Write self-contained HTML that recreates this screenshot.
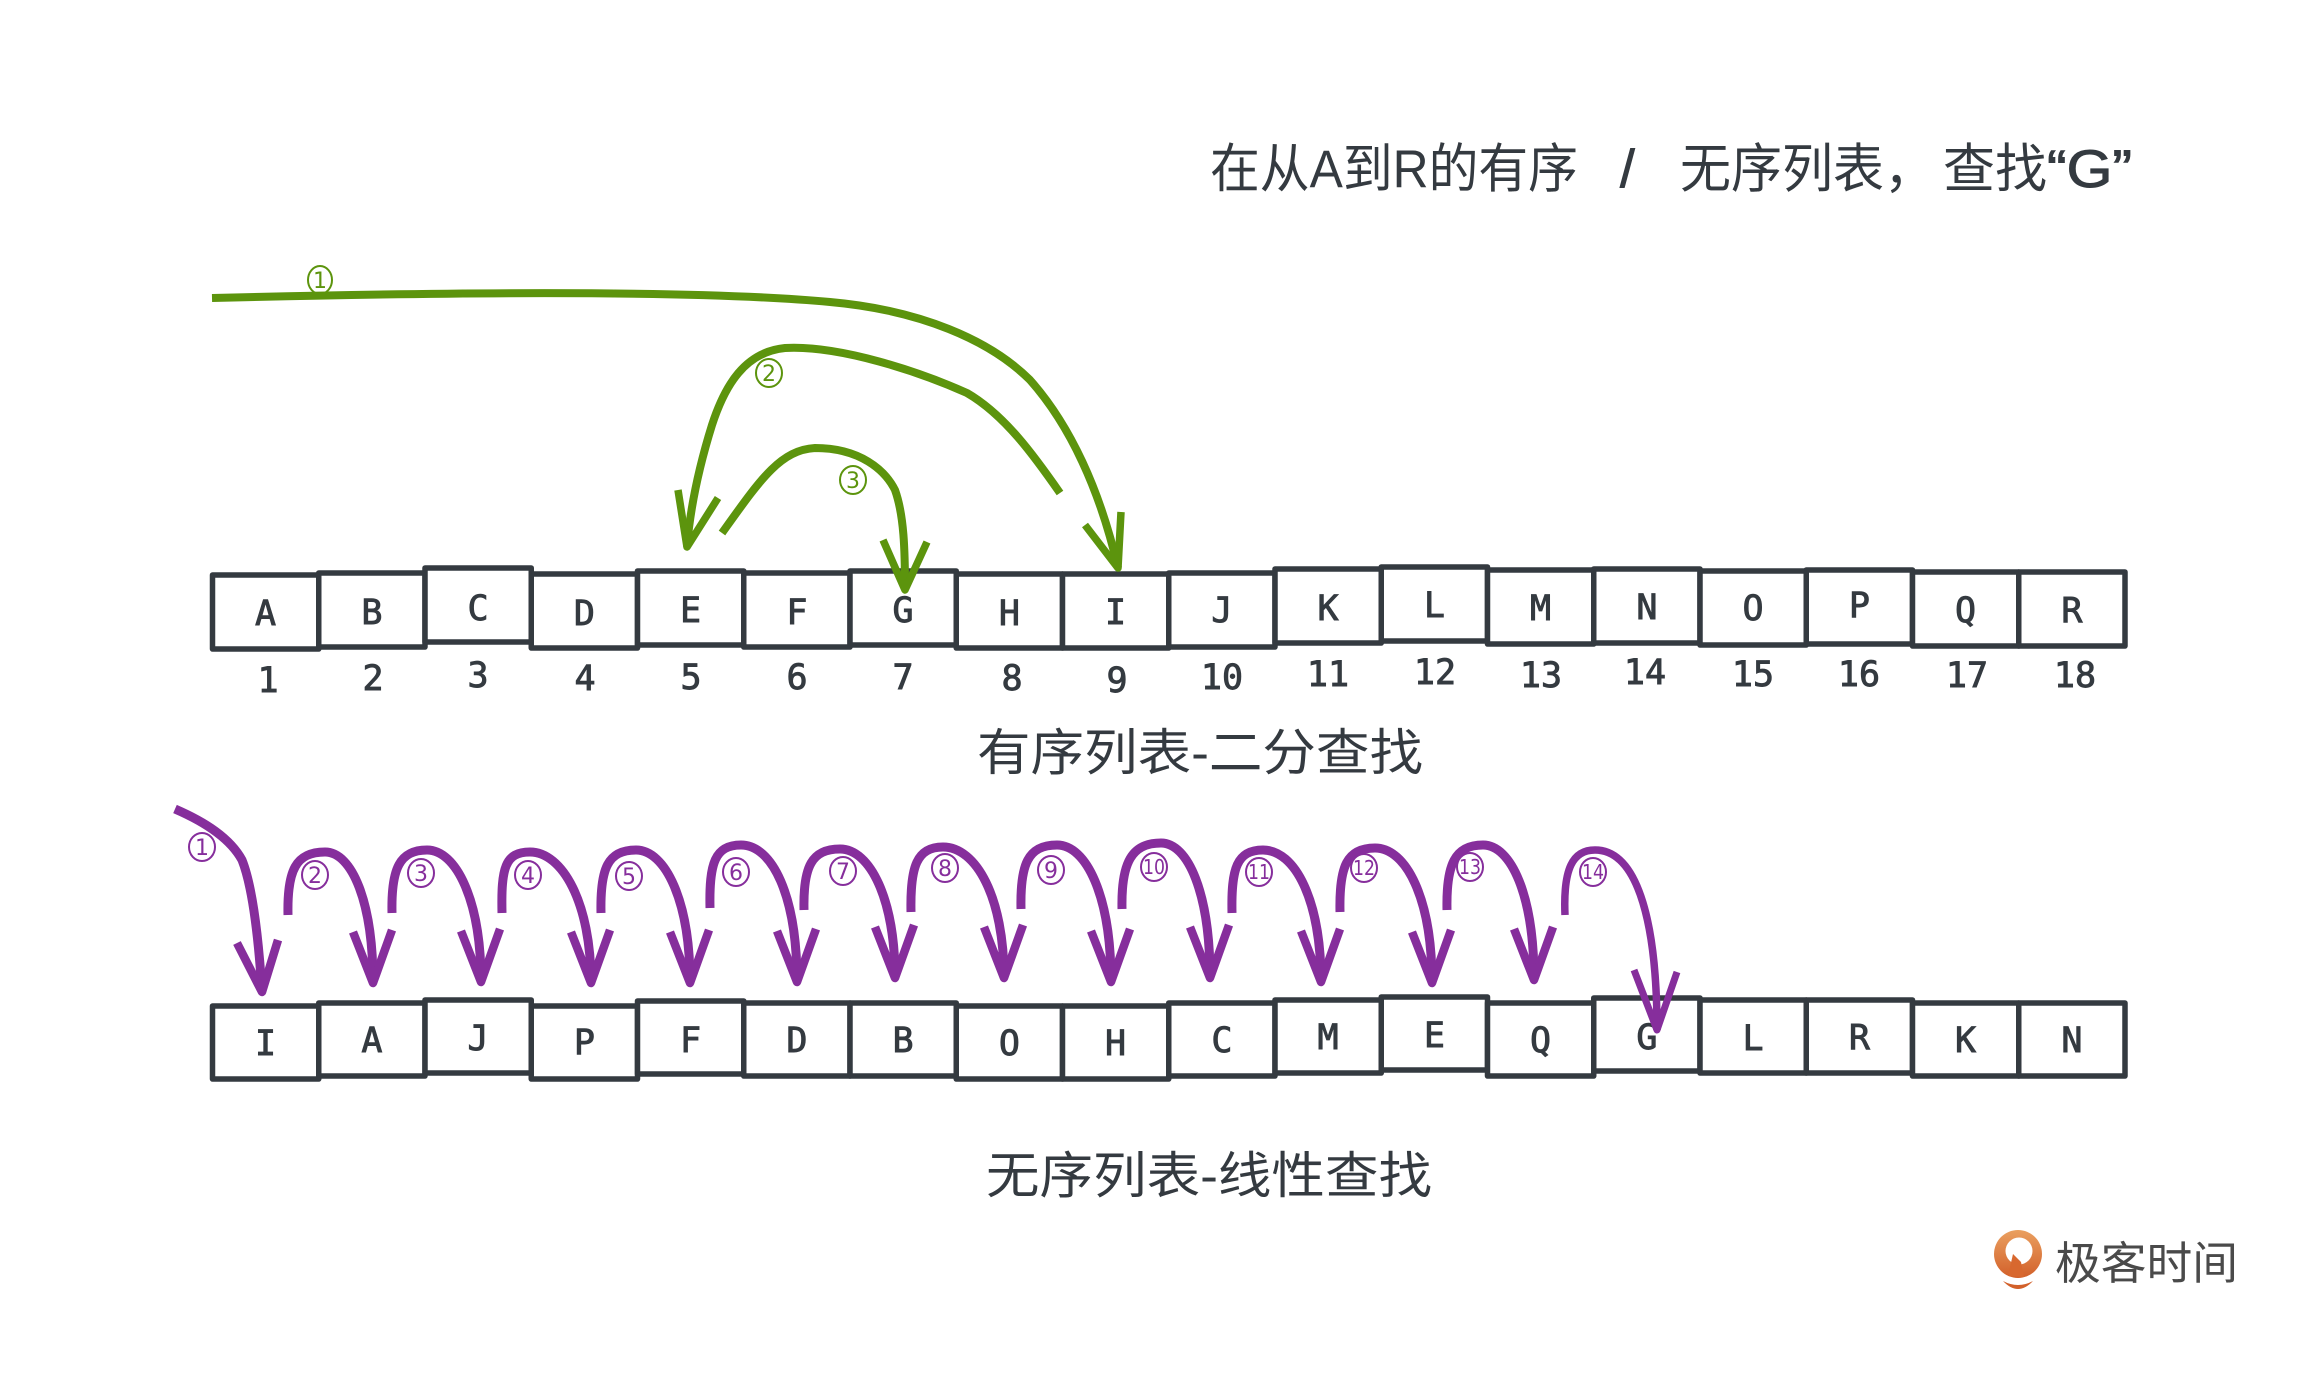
<!DOCTYPE html>
<html>
<head>
<meta charset="utf-8">
<style>
  html, body { margin:0; padding:0; background:#ffffff; }
  body { width:2312px; height:1379px; overflow:hidden; }
  svg { display:block; }
  .cjk { font-family: "Liberation Sans", "Noto Sans CJK SC", sans-serif; fill:#343a40; }
  .mono { font-family: "DejaVu Sans Mono", "Liberation Mono", monospace; fill:#343a40; stroke:#343a40; stroke-width:0.9; }
  .box { fill:#ffffff; stroke:#343a40; stroke-width:5.5; stroke-linejoin:round; }
  .g { fill:none; stroke:#5c940d; stroke-linecap:butt; stroke-linejoin:round; }
  .p { fill:none; stroke:#862e9c; stroke-linecap:butt; stroke-linejoin:round; }
  .gl { fill:none; stroke:#5c940d; stroke-width:2; }
  .pl { fill:none; stroke:#862e9c; stroke-width:2; }
  .gt { font-family:"DejaVu Sans", "Liberation Sans", sans-serif; fill:#5c940d; }
  .pt { font-family:"DejaVu Sans", "Liberation Sans", sans-serif; fill:#862e9c; }
</style>
</head>
<body>
<svg width="2312" height="1379" viewBox="0 0 2312 1379" xmlns="http://www.w3.org/2000/svg">
  <rect x="0" y="0" width="2312" height="1379" fill="#ffffff"/>

  <!-- Title -->
  <text class="cjk" x="1210" y="187" font-size="53" textLength="368" lengthAdjust="spacingAndGlyphs">在从A到R的有序</text>
  <text class="cjk" x="1620" y="187" font-size="53" stroke="#343a40" stroke-width="1">/</text>
  <text class="cjk" x="1680" y="187" font-size="53" textLength="255" lengthAdjust="spacingAndGlyphs">无序列表，</text>
  <text class="cjk" x="1943" y="187" font-size="53" textLength="104" lengthAdjust="spacingAndGlyphs">查找</text>
  <text class="cjk" x="2047" y="187" font-size="53" stroke="#343a40" stroke-width="1" textLength="85" lengthAdjust="spacingAndGlyphs">“G”</text>

  <!-- Row 1 boxes -->
  <g>
    <rect class="box" x="212.5" y="575" width="106.25" height="74"/>
    <rect class="box" x="318.75" y="573" width="106.25" height="74"/>
    <rect class="box" x="425" y="568" width="106.25" height="74"/>
    <rect class="box" x="531.25" y="574" width="106.25" height="74"/>
    <rect class="box" x="637.5" y="571" width="106.25" height="74"/>
    <rect class="box" x="743.75" y="573" width="106.25" height="74"/>
    <rect class="box" x="850" y="571" width="106.25" height="74"/>
    <rect class="box" x="956.25" y="574" width="106.25" height="74"/>
    <rect class="box" x="1062.5" y="574" width="106.25" height="74"/>
    <rect class="box" x="1168.75" y="573" width="106.25" height="74"/>
    <rect class="box" x="1275" y="569" width="106.25" height="74"/>
    <rect class="box" x="1381.25" y="567" width="106.25" height="74"/>
    <rect class="box" x="1487.5" y="570" width="106.25" height="74"/>
    <rect class="box" x="1593.75" y="569" width="106.25" height="74"/>
    <rect class="box" x="1700" y="571" width="106.25" height="74"/>
    <rect class="box" x="1806.25" y="570" width="106.25" height="74"/>
    <rect class="box" x="1912.5" y="572" width="106.25" height="74"/>
    <rect class="box" x="2018.75" y="572" width="106.25" height="74"/>
  </g>
  <g class="mono" font-size="35" text-anchor="middle">
    <text x="265.6" y="625">A</text>
    <text x="371.9" y="624">B</text>
    <text x="478.1" y="620">C</text>
    <text x="584.4" y="625">D</text>
    <text x="690.6" y="622">E</text>
    <text x="796.9" y="624">F</text>
    <text x="903.1" y="622">G</text>
    <text x="1009.4" y="625">H</text>
    <text x="1115.6" y="624">I</text>
    <text x="1221.9" y="622">J</text>
    <text x="1328.1" y="620">K</text>
    <text x="1434.4" y="617">L</text>
    <text x="1540.6" y="620">M</text>
    <text x="1646.9" y="619">N</text>
    <text x="1753.1" y="620">O</text>
    <text x="1859.4" y="617">P</text>
    <text x="1965.6" y="622">Q</text>
    <text x="2071.9" y="622">R</text>
  </g>
  <!-- Numbers -->
  <g class="mono" font-size="35" text-anchor="middle">
    <text x="268" y="692">1</text>
    <text x="373" y="690">2</text>
    <text x="478" y="687">3</text>
    <text x="585" y="690">4</text>
    <text x="691" y="689">5</text>
    <text x="797" y="689">6</text>
    <text x="903" y="689">7</text>
    <text x="1012" y="690">8</text>
    <text x="1117" y="692">9</text>
    <text x="1222" y="689">10</text>
    <text x="1328" y="686">11</text>
    <text x="1435" y="684">12</text>
    <text x="1541" y="687">13</text>
    <text x="1645" y="684">14</text>
    <text x="1753" y="686">15</text>
    <text x="1859" y="686">16</text>
    <text x="1967" y="687">17</text>
    <text x="2075" y="687">18</text>
  </g>

  <!-- Caption 1 -->
  <text class="cjk" x="977" y="770" font-size="50" textLength="446" lengthAdjust="spacingAndGlyphs">有序列表-二分查找</text>

  <!-- Green arrows -->
  <path class="g" stroke-width="8" d="M 212 298 C 450 292, 700 290, 830 302 C 920 310, 990 340, 1030 380 C 1070 425, 1100 490, 1118 568"/>
  <path class="g" stroke-width="7.5" d="M 1085 525 L 1118 568 L 1121 512"/>
  <path class="g" stroke-width="8" d="M 1060 493 C 1035 457, 1005 415, 967 393 C 920 372, 840 345, 785 348 C 745 352, 725 385, 712 425 C 698 470, 690 510, 687 547"/>
  <path class="g" stroke-width="7.5" d="M 678 490 L 687 547 L 718 498"/>
  <path class="g" stroke-width="8" d="M 722 533 C 760 480, 780 450, 815 448 C 860 448, 885 470, 895 490 C 904 515, 905 550, 905 590"/>
  <path class="g" stroke-width="7.5" d="M 883 540 L 905 590 L 927 542"/>

  <!-- Green labels -->
  <ellipse class="gl" cx="320" cy="280" rx="12" ry="14"/>
  <text class="gt" x="320" y="288" font-size="22" text-anchor="middle">1</text>
  <ellipse class="gl" cx="769" cy="373" rx="13" ry="14"/>
  <text class="gt" x="769" y="381" font-size="22" text-anchor="middle">2</text>
  <ellipse class="gl" cx="853" cy="480" rx="13" ry="14"/>
  <text class="gt" x="853" y="488" font-size="22" text-anchor="middle">3</text>

  <!-- Row 2 boxes -->
  <g>
    <rect class="box" x="212.5" y="1006" width="106.25" height="73"/>
    <rect class="box" x="318.75" y="1003" width="106.25" height="73"/>
    <rect class="box" x="425" y="1000" width="106.25" height="73"/>
    <rect class="box" x="531.25" y="1006" width="106.25" height="73"/>
    <rect class="box" x="637.5" y="1001" width="106.25" height="73"/>
    <rect class="box" x="743.75" y="1003" width="106.25" height="73"/>
    <rect class="box" x="850" y="1003" width="106.25" height="73"/>
    <rect class="box" x="956.25" y="1006" width="106.25" height="73"/>
    <rect class="box" x="1062.5" y="1006" width="106.25" height="73"/>
    <rect class="box" x="1168.75" y="1003" width="106.25" height="73"/>
    <rect class="box" x="1275" y="1000" width="106.25" height="73"/>
    <rect class="box" x="1381.25" y="997" width="106.25" height="73"/>
    <rect class="box" x="1487.5" y="1003" width="106.25" height="73"/>
    <rect class="box" x="1593.75" y="998" width="106.25" height="73"/>
    <rect class="box" x="1700" y="1000" width="106.25" height="73"/>
    <rect class="box" x="1806.25" y="1000" width="106.25" height="73"/>
    <rect class="box" x="1912.5" y="1003" width="106.25" height="73"/>
    <rect class="box" x="2018.75" y="1003" width="106.25" height="73"/>
  </g>
  <g class="mono" font-size="35" text-anchor="middle">
    <text x="265.6" y="1055">I</text>
    <text x="371.9" y="1052">A</text>
    <text x="478.1" y="1050">J</text>
    <text x="584.4" y="1054">P</text>
    <text x="690.6" y="1052">F</text>
    <text x="796.9" y="1052">D</text>
    <text x="903.1" y="1052">B</text>
    <text x="1009.4" y="1055">O</text>
    <text x="1115.6" y="1055">H</text>
    <text x="1221.9" y="1052">C</text>
    <text x="1328.1" y="1049">M</text>
    <text x="1434.4" y="1047">E</text>
    <text x="1540.6" y="1052">Q</text>
    <text x="1646.9" y="1049">G</text>
    <text x="1753.1" y="1050">L</text>
    <text x="1859.4" y="1049">R</text>
    <text x="1965.6" y="1052">K</text>
    <text x="2071.9" y="1052">N</text>
  </g>

  <!-- Purple arrows -->
  <g>
    <path class="p" stroke-width="9" d="M 175 809 C 205 822, 230 838, 242 860 C 252 885, 258 930, 262 992"/>
    <path class="p" stroke-width="8.5" d="M 237 943 L 262 992 L 278 940"/>
    <path class="p" stroke-width="9" d="M 288 915 C 287 870, 296 852, 325 852 C 352 852, 373 902, 373 983"/>
    <path class="p" stroke-width="8.5" d="M 353 932 L 373 983 L 392 930"/>
    <path class="p" stroke-width="9" d="M 392 913 C 391 868, 400 850, 427 850 C 456 850, 481 900, 481 982"/>
    <path class="p" stroke-width="8.5" d="M 461 931 L 481 982 L 500 929"/>
    <path class="p" stroke-width="9" d="M 502 913 C 501 868, 505 852, 530 852 C 562 852, 591 902, 591 983"/>
    <path class="p" stroke-width="8.5" d="M 571 932 L 591 983 L 610 930"/>
    <path class="p" stroke-width="9" d="M 601 913 C 600 868, 608 850, 636 850 C 665 850, 690 900, 690 983"/>
    <path class="p" stroke-width="8.5" d="M 670 932 L 690 983 L 709 930"/>
    <path class="p" stroke-width="9" d="M 710 908 C 709 863, 715 845, 741 845 C 772 845, 797 895, 797 982"/>
    <path class="p" stroke-width="8.5" d="M 777 931 L 797 982 L 816 929"/>
    <path class="p" stroke-width="9" d="M 804 910 C 803 866, 812 849, 840 849 C 870 849, 895 899, 895 978"/>
    <path class="p" stroke-width="8.5" d="M 875 927 L 895 978 L 914 925"/>
    <path class="p" stroke-width="9" d="M 911 912 C 910 866, 917 847, 943 847 C 976 847, 1004 897, 1004 978"/>
    <path class="p" stroke-width="8.5" d="M 984 927 L 1004 978 L 1023 925"/>
    <path class="p" stroke-width="9" d="M 1021 909 C 1020 864, 1028 845, 1057 845 C 1086 845, 1111 895, 1111 982"/>
    <path class="p" stroke-width="8.5" d="M 1091 931 L 1111 982 L 1130 929"/>
    <path class="p" stroke-width="9" d="M 1122 909 C 1121 862, 1132 843, 1161 843 C 1188 843, 1210 893, 1210 978"/>
    <path class="p" stroke-width="8.5" d="M 1190 927 L 1210 978 L 1229 925"/>
    <path class="p" stroke-width="9" d="M 1232 913 C 1231 868, 1237 850, 1263 850 C 1295 850, 1321 900, 1321 982"/>
    <path class="p" stroke-width="8.5" d="M 1301 931 L 1321 982 L 1340 929"/>
    <path class="p" stroke-width="9" d="M 1340 912 C 1339 866, 1347 848, 1375 848 C 1406 848, 1432 898, 1432 983"/>
    <path class="p" stroke-width="8.5" d="M 1412 932 L 1432 983 L 1451 930"/>
    <path class="p" stroke-width="9" d="M 1447 910 C 1446 864, 1455 845, 1483 845 C 1511 845, 1534 895, 1534 980"/>
    <path class="p" stroke-width="8.5" d="M 1514 929 L 1534 980 L 1553 927"/>
    <path class="p" stroke-width="7.5" d="M 1565 915 C 1563 868, 1573 850, 1595 850 C 1640 850, 1657 930, 1657 1030"/>
    <path class="p" stroke-width="7" d="M 1634 970 L 1657 1030 L 1677 972"/>
  </g>

  <!-- Purple labels -->
  <g>
    <ellipse class="pl" cx="202" cy="847" rx="13" ry="14"/>
    <text class="pt" x="202" y="855" font-size="22" text-anchor="middle">1</text>
    <ellipse class="pl" cx="315" cy="875" rx="13" ry="14"/>
    <text class="pt" x="315" y="883" font-size="22" text-anchor="middle">2</text>
    <ellipse class="pl" cx="421" cy="873" rx="13" ry="14"/>
    <text class="pt" x="421" y="881" font-size="22" text-anchor="middle">3</text>
    <ellipse class="pl" cx="528" cy="875" rx="13" ry="14"/>
    <text class="pt" x="528" y="883" font-size="22" text-anchor="middle">4</text>
    <ellipse class="pl" cx="629" cy="876" rx="13" ry="14"/>
    <text class="pt" x="629" y="884" font-size="22" text-anchor="middle">5</text>
    <ellipse class="pl" cx="736" cy="872" rx="13" ry="14"/>
    <text class="pt" x="736" y="880" font-size="22" text-anchor="middle">6</text>
    <ellipse class="pl" cx="843" cy="871" rx="13" ry="14"/>
    <text class="pt" x="843" y="879" font-size="22" text-anchor="middle">7</text>
    <ellipse class="pl" cx="945" cy="868" rx="13" ry="14"/>
    <text class="pt" x="945" y="876" font-size="22" text-anchor="middle">8</text>
    <ellipse class="pl" cx="1051" cy="870" rx="13" ry="14"/>
    <text class="pt" x="1051" y="878" font-size="22" text-anchor="middle">9</text>
    <ellipse class="pl" cx="1154" cy="867" rx="13" ry="14"/>
    <text class="pt" x="1154" y="874" font-size="20" text-anchor="middle" textLength="22" lengthAdjust="spacingAndGlyphs">10</text>
    <ellipse class="pl" cx="1259" cy="872" rx="13" ry="14"/>
    <text class="pt" x="1259" y="879" font-size="20" text-anchor="middle" textLength="22" lengthAdjust="spacingAndGlyphs">11</text>
    <ellipse class="pl" cx="1364" cy="868" rx="13" ry="14"/>
    <text class="pt" x="1364" y="875" font-size="20" text-anchor="middle" textLength="22" lengthAdjust="spacingAndGlyphs">12</text>
    <ellipse class="pl" cx="1470" cy="867" rx="13" ry="14"/>
    <text class="pt" x="1470" y="874" font-size="20" text-anchor="middle" textLength="22" lengthAdjust="spacingAndGlyphs">13</text>
    <ellipse class="pl" cx="1593" cy="872" rx="13" ry="14"/>
    <text class="pt" x="1593" y="879" font-size="20" text-anchor="middle" textLength="22" lengthAdjust="spacingAndGlyphs">14</text>
  </g>

  <!-- Caption 2 -->
  <text class="cjk" x="986" y="1193" font-size="50" textLength="446" lengthAdjust="spacingAndGlyphs">无序列表-线性查找</text>

  <!-- Logo -->
  <defs>
    <linearGradient id="og" x1="0" y1="0" x2="0" y2="1">
      <stop offset="0" stop-color="#eaa060"/>
      <stop offset="1" stop-color="#d2602a"/>
    </linearGradient>
  </defs>
  <circle cx="2018" cy="1254" r="24" fill="url(#og)"/>
  <circle cx="2019" cy="1251" r="13.5" fill="#ffffff"/>
  <path d="M 2008 1276 L 2013 1254 L 2021 1262 L 2024 1277 Z" fill="#d8682f"/>
  <path d="M 2003 1281 Q 2018 1297 2033 1281 Q 2018 1289 2003 1281 Z" fill="#d2602a"/>
  <text x="2055" y="1279" font-size="45" textLength="183" lengthAdjust="spacingAndGlyphs" style="font-family:'Liberation Sans','Noto Sans CJK SC',sans-serif; fill:#4a4a4a;">极客时间</text>
</svg>
</body>
</html>
